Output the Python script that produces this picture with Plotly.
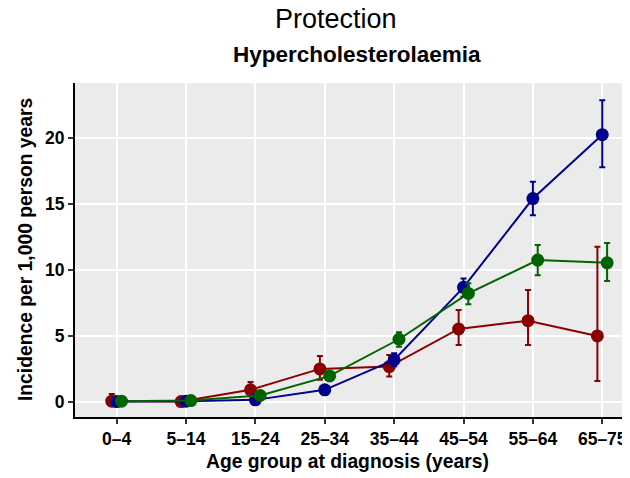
import numpy as np
import plotly.graph_objects as go

# Données (incidence pour 1 000 personnes-années)
age_groups = ["0–4", "5–14", "15–24", "25–34", "35–44", "45–54", "55–64", "65–75"]

red_vals = [0.05, 0.02, 0.91, 2.50, 2.68, 5.53, 6.16, 5.00]
red_hi = [0.60, 0.10, 1.50, 3.48, 3.56, 6.97, 8.48, 11.77]
red_lo = [0.00, 0.00, 0.45, 1.67, 1.92, 4.32, 4.32, 1.59]

blue_vals = [0.02, 0.05, 0.15, 0.91, 3.18, 8.69, 15.43, 20.28]
blue_hi = [0.10, 0.15, 0.30, 1.10, 3.69, 9.37, 16.70, 22.90]
blue_lo = [0.00, 0.00, 0.05, 0.75, 2.70, 7.98, 14.17, 17.80]

green_vals = [0.05, 0.10, 0.48, 1.97, 4.75, 8.23, 10.76, 10.55]
green_hi = [0.15, 0.20, 0.70, 2.30, 5.28, 9.00, 11.90, 12.05]
green_lo = [0.00, 0.02, 0.30, 1.65, 4.19, 7.40, 9.60, 9.17]

FONT = "Liberation Sans, Arial, Helvetica, sans-serif"

series = [
    ("red", red_vals, red_hi, red_lo, "#8B0000", -0.07),
    ("blue", blue_vals, blue_hi, blue_lo, "#00008B", 0.0),
    ("green", green_vals, green_hi, green_lo, "#006400", 0.07),
]

fig = go.Figure()
xs = np.arange(len(age_groups))

for name, vals, hi, lo, color, dodge in series:
    v = np.array(vals)
    fig.add_trace(
        go.Scatter(
            x=xs + dodge,
            y=v,
            mode="lines+markers",
            name=name,
            line={"color": color, "width": 2},
            marker={"color": color, "size": 13},
            error_y={
                "type": "data",
                "symmetric": False,
                "array": np.array(hi) - v,
                "arrayminus": v - np.array(lo),
                "color": color,
                "thickness": 2,
                "width": 3,
            },
            showlegend=False,
        )
    )


def _label(text, x, y, size, angle=0):
    """Texte libre en coordonnées papier, centré sur (x, y)."""
    return dict(text=text, x=x, y=y, xref="paper", yref="paper", xanchor="center",
                yanchor="middle", showarrow=False, textangle=angle,
                font={"size": size, "family": FONT, "color": "black"})


# La page a une marge de 8 px : figure réduite d'autant
fig.update_layout(
    width=622,
    height=470,
    margin={"l": 67, "r": 0, "t": 75, "b": 61, "autoexpand": False},
    paper_bgcolor="white",
    plot_bgcolor="#EBEBEB",
    font={"family": FONT, "color": "black"},
    annotations=[
        _label("Protection", 0.470, 1.193, 27),
        _label("<b>Hypercholesterolaemia</b>", 0.508, 1.086, 22.5),
        _label("<b>Age group at diagnosis (years)</b>", 0.491, -0.132, 19.3),
        _label("<b>Incidence per 1,000 person years</b>", -0.090, 0.5, 19.3, angle=-90),
    ],
)

axis_style = dict(
    showgrid=True,
    gridcolor="white",
    gridwidth=2,
    zeroline=False,
    showline=True,
    linecolor="black",
    linewidth=2,
    ticks="outside",
    ticklen=5,
    tickwidth=1.5,
    tickcolor="#333333",
    automargin=False,
    tickfont={"size": 17.5, "family": FONT, "weight": "bold", "color": "black"},
)

fig.update_xaxes(range=[-0.6, 7.4], tickmode="array", tickvals=xs, ticktext=age_groups, **axis_style)
fig.update_yaxes(range=[-1.15, 24.2], tickvals=[0, 5, 10, 15, 20], **axis_style)

fig.write_html("out.html")
